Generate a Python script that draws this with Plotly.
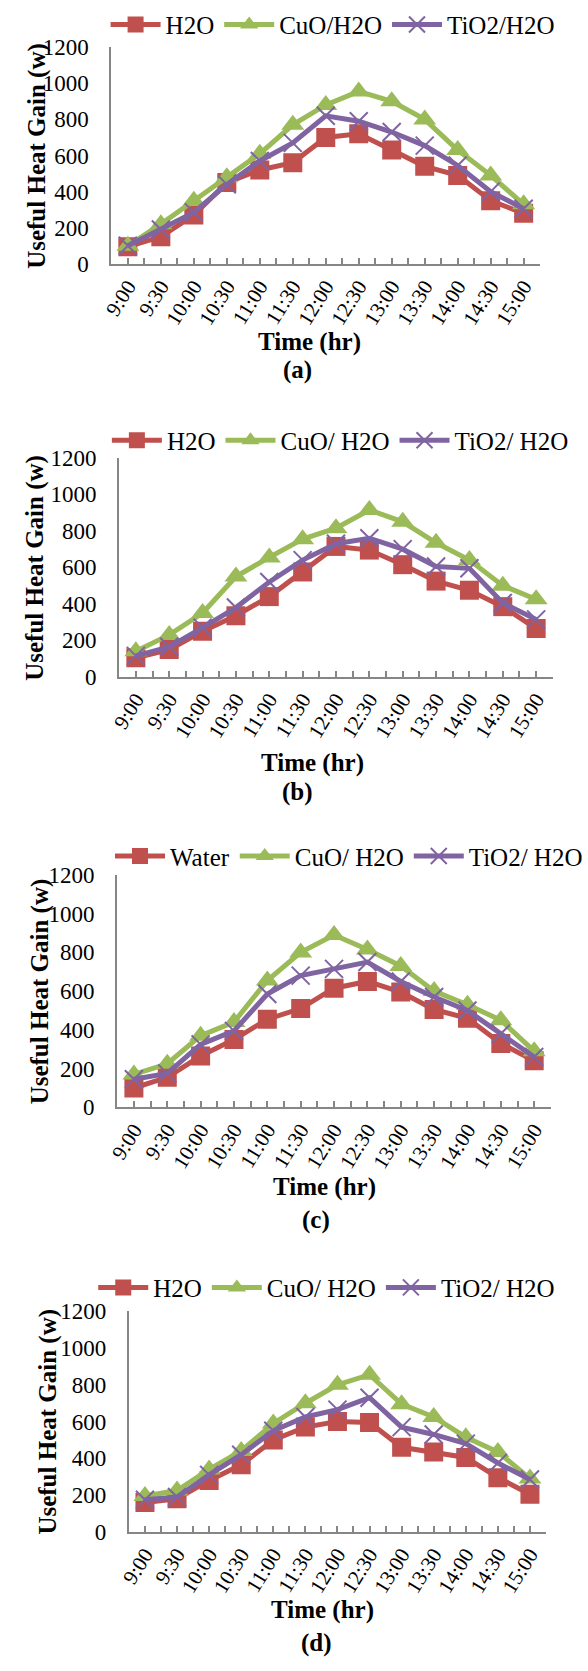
import plotly.graph_objects as go

W, H = 588, 1671

times = ["9:00", "9:30", "10:00", "10:30", "11:00", "11:30", "12:00",
         "12:30", "13:00", "13:30", "14:00", "14:30", "15:00"]

# (a)
h2o_a = [95, 150, 270, 450, 520, 560, 700, 720, 630, 540, 490, 350, 280]
cuo_a = [100, 220, 350, 480, 610, 770, 880, 955, 900, 800, 630, 490, 330]
tio2_a = [100, 190, 285, 440, 570, 670, 820, 790, 730, 655, 545, 400, 305]
# (b)
h2o_b = [105, 150, 250, 335, 440, 575, 715, 695, 615, 525, 475, 385, 265]
cuo_b = [140, 230, 350, 550, 655, 755, 815, 915, 850, 735, 640, 500, 425]
tio2_b = [115, 165, 270, 380, 520, 640, 730, 760, 700, 605, 595, 405, 315]
# (c)
h2o_c = [100, 155, 265, 350, 455, 510, 615, 650, 595, 505, 460, 330, 240]
cuo_c = [170, 225, 370, 440, 655, 800, 890, 815, 730, 600, 530, 450, 290]
tio2_c = [145, 175, 325, 395, 585, 680, 715, 750, 650, 570, 500, 380, 260]
# (d)
h2o_d = [160, 180, 280, 365, 500, 570, 600, 595, 460, 435, 405, 295, 205]
cuo_d = [195, 225, 340, 440, 590, 700, 800, 855, 695, 625, 515, 435, 290]
tio2_d = [175, 190, 310, 420, 550, 625, 665, 730, 570, 530, 480, 375, 285]

names_a = ["H2O", "CuO/H2O", "TiO2/H2O"]
names_b = ["H2O", "CuO/ H2O", "TiO2/ H2O"]
names_c = ["Water", "CuO/ H2O", "TiO2/ H2O"]
names_d = ["H2O", "CuO/ H2O", "TiO2/ H2O"]

RED, GREEN, PURPLE = "#C0504D", "#9BBB59", "#8064A2"
AXIS = "#868686"
SERIF = "Liberation Serif"


def fx(x):
    return x / W


def fy(y):
    return 1 - y / H


# pixel layout of each panel: plot box, legend centre, title and caption positions
panels = [
    dict(series=(h2o_a, cuo_a, tio2_a), names=names_a, label="(a)",
         box=(103, 543, 35.7, 255.7), leg=(330, 13), ytitle_x=26,
         xtitle=(306, 335), cap=(294, 363)),
    dict(series=(h2o_b, cuo_b, tio2_b), names=names_b, label="(b)",
         box=(111, 556, 452.7, 675), leg=(338, 435), ytitle_x=25,
         xtitle=(309, 762), cap=(294, 792)),
    dict(series=(h2o_c, cuo_c, tio2_c), names=names_c, label="(c)",
         box=(109, 554, 876, 1112), leg=(347, 857), ytitle_x=30,
         xtitle=(322, 1193), cap=(313, 1226)),
    dict(series=(h2o_d, cuo_d, tio2_d), names=names_d, label="(d)",
         box=(121, 549, 1319, 1543), leg=(324, 1295), ytitle_x=38,
         xtitle=(320, 1622), cap=(313, 1656)),
]

fig = go.Figure()
layout = dict(
    width=W, height=H, autosize=False,
    margin=dict(l=0, r=0, t=0, b=0),
    paper_bgcolor="white", plot_bgcolor="white",
    font=dict(family=SERIF, color="black"),
    annotations=[],
)

xs = list(range(len(times)))
styles = [
    (RED, dict(symbol="square", size=19, color=RED)),
    (GREEN, dict(symbol="triangle-up", size=20, color=GREEN)),
    (PURPLE, dict(symbol="x-thin", size=18, color=PURPLE,
                  line=dict(color=PURPLE, width=2))),
]

title_font = dict(size=25, family=SERIF, weight="bold", color="black")
n_panels = len(panels)

for i, p in enumerate(panels):
    n = "" if i == 0 else str(i + 1)
    xa, ya = "x" + n, "y" + n
    leg = "legend" + n
    x0, x1, ytop, ybot = p["box"]

    for vals, name, (col, mk) in zip(p["series"], p["names"], styles):
        fig.add_trace(go.Scatter(
            x=xs, y=vals, name=name, mode="lines+markers",
            line=dict(color=col, width=5), marker=mk,
            xaxis=xa, yaxis=ya, legend=leg,
        ))

    layout["xaxis" + n] = dict(
        domain=[fx(x0), fx(x1)], anchor=ya,
        range=[-0.5, len(times) - 0.5],
        tickmode="array", tickvals=xs, ticktext=times,
        tickangle=-58, tickfont=dict(size=21, family=SERIF),
        ticks="inside", ticklen=6, tickwidth=1.5, tickcolor=AXIS,
        minor=dict(tickmode="array",
                   tickvals=[k - 0.5 for k in range(len(times) + 1)],
                   ticks="inside", ticklen=6, tickwidth=1.5,
                   tickcolor=AXIS),
        showline=True, linecolor=AXIS, linewidth=2,
        showgrid=False, zeroline=False, fixedrange=True,
    )
    # value axis: labels held off the line by an invisible outside tick
    layout["yaxis" + n] = dict(
        domain=[fy(ybot), fy(ytop)], anchor=xa,
        range=[0, 1200], tickmode="linear", tick0=0, dtick=200,
        tickfont=dict(size=23, family=SERIF),
        ticks="outside", ticklen=16, tickcolor="rgba(0,0,0,0)",
        showline=True, linecolor=AXIS, linewidth=2,
        showgrid=False, zeroline=False, fixedrange=True,
    )
    # companion axis carrying the inward tick marks every 100
    k = str(n_panels + i + 1)
    layout["yaxis" + k] = dict(
        overlaying=ya, anchor=xa, side="left",
        range=[0, 1200], tickmode="linear", tick0=0, dtick=100,
        ticks="inside", ticklen=6, tickwidth=1.5, tickcolor=AXIS,
        showticklabels=False, showline=False,
        showgrid=False, zeroline=False, fixedrange=True,
    )
    layout[leg] = dict(
        orientation="h", x=fx(p["leg"][0]), y=fy(p["leg"][1]),
        xanchor="center", yanchor="middle",
        font=dict(size=25, family=SERIF), itemwidth=50,
        bgcolor="rgba(0,0,0,0)", traceorder="normal",
    )

    layout["annotations"] += [
        dict(text="Useful Heat Gain (w)", textangle=-90,
             x=fx(p["ytitle_x"]), y=fy((ytop + ybot) / 2),
             xref="paper", yref="paper", showarrow=False,
             xanchor="center", yanchor="middle", font=title_font),
        dict(text="Time (hr)",
             x=fx(p["xtitle"][0]), y=fy(p["xtitle"][1]),
             xref="paper", yref="paper", showarrow=False,
             xanchor="center", yanchor="middle", font=title_font),
        dict(text=p["label"],
             x=fx(p["cap"][0]), y=fy(p["cap"][1]),
             xref="paper", yref="paper", showarrow=False,
             xanchor="center", yanchor="middle", font=title_font),
    ]

fig.update_layout(**layout)
fig.write_html("out.html")
